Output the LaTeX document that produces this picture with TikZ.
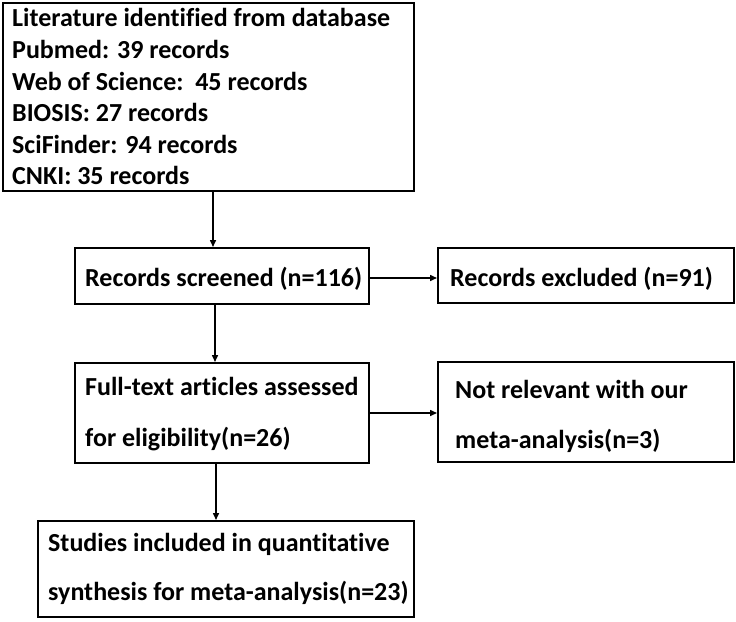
\documentclass[tikz,border=0pt]{standalone}
\usepackage{fontspec}
\setmainfont[Ligatures=CommonOff]{Carlito}
\usetikzlibrary{arrows.meta}
\begin{document}
\begin{tikzpicture}[x=1pt,y=-1pt,
  box/.style={draw,line width=2pt,minimum width=#1,inner sep=0pt,anchor=north west},
  txt/.style={anchor=base west,inner sep=0pt,font=\fontsize{26}{26}\selectfont\bfseries},
  arr/.style={line width=1.5pt,-{Triangle[length=7pt,width=6pt]}}]
\useasboundingbox (0,0) rectangle (736,621);
\node[box=411pt,minimum height=188pt] (b1) at (2,1.5) {};
\node[box=294pt,minimum height=56pt] (b2) at (74,247) {};
\node[box=296pt,minimum height=55pt] (b3) at (437,247) {};
\node[box=294pt,minimum height=100pt] (b4) at (74,362) {};
\node[box=296pt,minimum height=100pt] (b5) at (437,361) {};
\node[box=376pt,minimum height=96pt] (b6) at (37,520) {};
\node[txt] (t1) at (12,27) {Literature identified from database};
\node[txt] (t2) at (12,58.5) {Pubmed: 39 records};
\node[txt] (t3) at (12,90) {Web of Science:\ \ 45 records};
\node[txt] (t4) at (12,121.5) {BIOSIS: 27 records};
\node[txt] (t5) at (12,153) {SciFinder: 94 records};
\node[txt] (t6) at (12,184) {CNKI: 35 records};
\node[txt] (t7) at (85,286) {Records screened (n=116)};
\node[txt] (t8) at (450,286) {Records excluded (n=91)};
\node[txt] (t9) at (85,395) {Full-text articles assessed};
\node[txt] (t10) at (85,446) {for eligibility(n=26)};
\node[txt] (t11) at (455,398) {Not relevant with our};
\node[txt] (t12) at (455,448) {meta-analysis(n=3)};
\node[txt] (t13) at (48,551) {Studies included in quantitative};
\node[txt] (t14) at (48,600) {synthesis for meta-analysis(n=23)};
\coordinate (xa) at (213,0);
\coordinate (xb) at (215,0);
\coordinate (xc) at (216,0);
\coordinate (ya) at (0,278);
\coordinate (yb) at (0,413);
\draw[arr] (b1.south -| xa) -- (b2.north -| xa);
\draw[arr] (b2.east |- ya) -- (b3.west |- ya);
\draw[arr] (b2.south -| xb) -- (b4.north -| xb);
\draw[arr] (b4.east |- yb) -- (b5.west |- yb);
\draw[arr] (b4.south -| xc) -- (b6.north -| xc);
\end{tikzpicture}
\end{document}
